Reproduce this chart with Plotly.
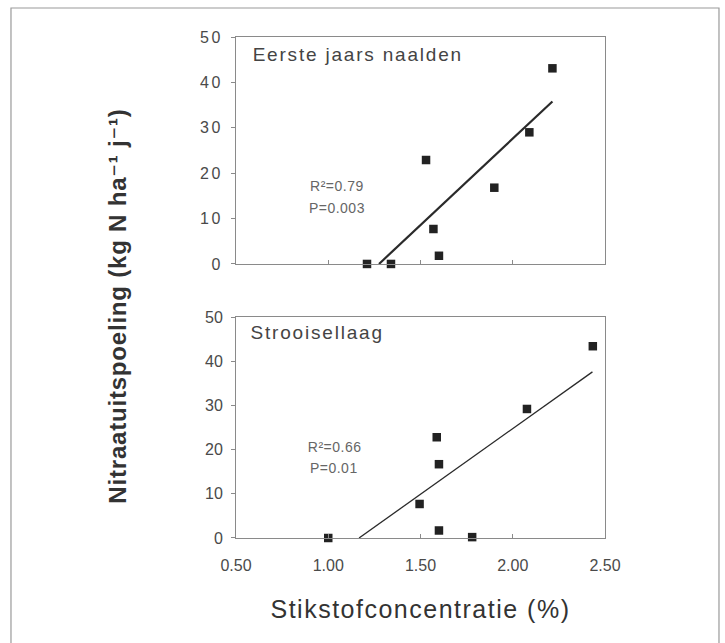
import plotly.graph_objects as go

# ---- data ----
top_x = [1.21, 1.34, 1.53, 1.57, 1.60, 1.90, 2.09, 2.215]
top_y = [0, 0, 22.9, 7.7, 1.8, 16.8, 29.0, 43.1]
top_fit_x = [1.275, 2.215]
top_fit_y = [0, 35.8]

bot_x = [1.00, 1.495, 1.588, 1.60, 1.60, 1.78, 2.077, 2.434]
bot_y = [0, 7.7, 22.8, 16.7, 1.7, 0.2, 29.2, 43.4]
bot_fit_x = [1.167, 2.432]
bot_fit_y = [0, 37.6]

x_ticks = [0.5, 1.0, 1.5, 2.0, 2.5]
x_tick_labels = ["0.50", "1.00", "1.50", "2.00", "2.50"]
y_ticks = [0, 10, 20, 30, 40, 50]

panel_labels = ["Eerste jaars naalden", "Strooisellaag"]
stats_top = ["R\u00b2=0.79", "P=0.003"]
stats_bot = ["R\u00b2=0.66", "P=0.01"]
y_title = "Nitraatuitspoeling (kg N ha\u207b\u00b9 j\u207b\u00b9)"
x_title = "Stikstofconcentratie (%)"

FONT = "Liberation Sans, Arial, DejaVu Sans, sans-serif"
MARK = "#222222"
AXC = "#8a8a8a"

fig = go.Figure()

fig.add_trace(go.Scatter(x=top_fit_x, y=top_fit_y, mode="lines",
                         line=dict(color="#2a2a2a", width=2.2),
                         xaxis="x", yaxis="y", showlegend=False))
fig.add_trace(go.Scatter(x=top_x, y=top_y, mode="markers",
                         marker=dict(symbol="square", size=8.5, color=MARK),
                         cliponaxis=False, xaxis="x", yaxis="y", showlegend=False))
fig.add_trace(go.Scatter(x=bot_fit_x, y=bot_fit_y, mode="lines",
                         line=dict(color="#2a2a2a", width=1.3),
                         xaxis="x2", yaxis="y2", showlegend=False))
fig.add_trace(go.Scatter(x=bot_x, y=bot_y, mode="markers",
                         marker=dict(symbol="square", size=8.5, color=MARK),
                         cliponaxis=False, xaxis="x2", yaxis="y2", showlegend=False))
# empty trace so the shared title axis (y3) is drawn
fig.add_trace(go.Scatter(x=[None], y=[None], mode="markers", xaxis="x2", yaxis="y3",
                         showlegend=False, hoverinfo="skip"))

# text labels as text traces
def T(texts, xs, ys, xa, ya, size, color):
    fig.add_trace(go.Scatter(x=xs, y=ys, text=texts, mode="text",
                             textposition="middle center", cliponaxis=False,
                             textfont=dict(family=FONT, size=size, color=color),
                             xaxis=xa, yaxis=ya, showlegend=False, hoverinfo="skip"))

T([panel_labels[0]], [1.16], [45.8], "x", "y", 19, "#444444")
T([panel_labels[1]], [0.94], [46.1], "x2", "y2", 19, "#444444")
T(stats_top, [1.047, 1.047], [16.9, 12.0], "x", "y", 14, "#666666")
T(stats_bot, [1.035, 1.030], [20.2, 15.4], "x2", "y2", 14, "#666666")

xcommon = dict(range=[0.5, 2.5], tickvals=x_ticks, ticktext=x_tick_labels,
               showline=True, mirror=True, linecolor=AXC, linewidth=1,
               ticks="inside", ticklen=4, tickcolor=AXC, showgrid=False,
               zeroline=False, ticklabelstandoff=13,
               tickfont=dict(family=FONT, size=16, color="#4a4a4a"))
ycommon = dict(range=[0, 50], tickvals=y_ticks,
               showline=True, mirror=True, linecolor=AXC, linewidth=1,
               ticks="outside", ticklen=4, tickcolor=AXC, showgrid=False,
               zeroline=False, ticklabelstandoff=5,
               tickfont=dict(family=FONT, size=16, color="#4a4a4a"))

fig.update_layout(
    width=725, height=643,
    font=dict(family=FONT, size=14, color="#444444"),
    margin=dict(l=236, r=120, t=37, b=105),
    paper_bgcolor="white", plot_bgcolor="rgba(0,0,0,0)",
    xaxis=dict(**xcommon, anchor="y", showticklabels=False),
    yaxis=dict(**ycommon, domain=[0.547, 1.0], anchor="x"),
    xaxis2=dict(**xcommon, anchor="y2",
                title=dict(text=x_title, standoff=27,
                           font=dict(family=FONT, size=25, color="#333333"))),
    yaxis2=dict(**ycommon, domain=[0.0, 0.441], anchor="x2"),
    yaxis3=dict(domain=[0.0, 0.926], anchor="free", position=0,
                showline=False, showticklabels=False, ticks="", showgrid=False,
                zeroline=False, range=[0, 1],
                title=dict(text=y_title, standoff=101,
                           font=dict(family=FONT, size=24, color="#333333", weight="bold"))),
    shapes=[dict(type="rect", xref="paper", yref="paper",
                 x0=-0.6098, x1=1.3089, y0=-0.25, y1=1.0579,
                 line=dict(color="#9a9a9a", width=1.2), layer="below")],
)

post = """
document.body.style.margin = '0';
var gd = document.getElementById('{plot_id}');
function sp(){
  gd.querySelectorAll('.xtick text, .ytick text').forEach(function(t){t.style.letterSpacing='2.5px';});
  gd.querySelectorAll('.textpoint text').forEach(function(t){
    var s = t.textContent || '';
    if (s.indexOf('Eerste') === 0 || s.indexOf('Strooisel') === 0) { t.style.letterSpacing = '1.8px'; }
    else { t.style.letterSpacing = '0.5px'; }
  });
  gd.querySelectorAll('.g-x2title text').forEach(function(t){t.style.letterSpacing='1.5px';});
  gd.querySelectorAll('.g-y3title text').forEach(function(t){t.style.letterSpacing='0.8px';});
}
sp();
if (gd.on) { gd.on('plotly_afterplot', sp); }
"""
fig.write_html("out.html", post_script=post, config={"displayModeBar": False})
